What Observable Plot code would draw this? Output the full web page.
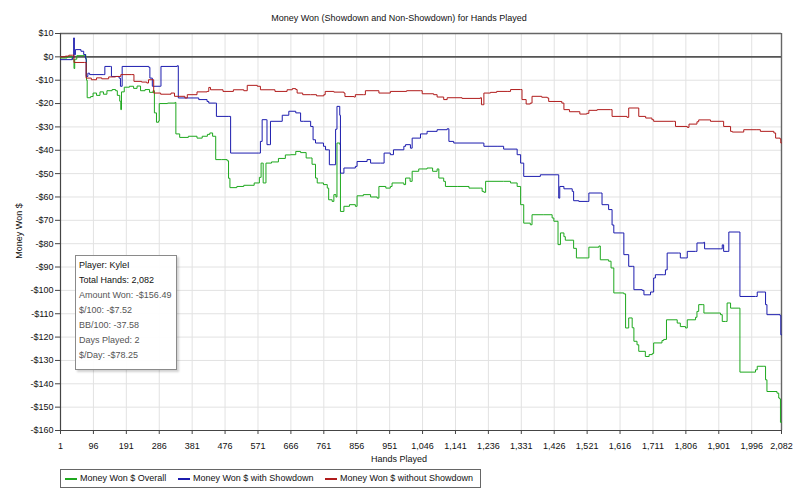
<!DOCTYPE html>
<html><head><meta charset="utf-8">
<script src="https://cdn.jsdelivr.net/npm/d3@7"></script>
<script src="https://cdn.jsdelivr.net/npm/@observablehq/plot@0.6"></script>
<style>
body{margin:0;background:#fff;font-family:"Liberation Sans",Arial,sans-serif;}
#wrap{position:relative;width:799px;height:501px;overflow:hidden;background:#fff;}
#chart{position:absolute;left:0;top:0;}
.abs{position:absolute;white-space:nowrap;font-size:9px;color:#111;}
#title{left:399px;top:18px;transform:translate(-50%,-50%);}
#xlabel{left:399px;top:459px;transform:translate(-50%,-50%);}
#ylabel{left:19px;top:231px;transform:translate(-50%,-50%) rotate(-90deg);}
#info{position:absolute;left:75px;top:255px;width:102px;height:115px;box-sizing:border-box;border:1px solid #8a8a8a;background:rgba(255,255,255,0.93);box-shadow:2px 2px 2px rgba(0,0,0,0.18);padding:2px 0 0 3px;font-size:9px;line-height:15px;color:#555;}
#info .dark{color:#111;}
#legend{position:absolute;left:60px;top:469px;width:421px;height:19px;box-sizing:border-box;border:1px solid #666;font-size:9px;color:#111;}
.li{position:absolute;top:0;line-height:17px;white-space:nowrap;}
.sw{position:absolute;top:8px;height:2px;}
</style></head><body>
<div id="wrap">
<div id="chart"></div>
<div class="abs" id="title">Money Won (Showdown and Non-Showdown) for Hands Played</div>
<div class="abs" id="xlabel">Hands Played</div>
<div class="abs" id="ylabel">Money Won $</div>
<div id="info"></div>
<div id="legend"></div>
</div>
<script>
const xTicks = [1,96,191,286,381,476,571,666,761,856,951,1046,1141,1236,1331,1426,1521,1616,1711,1806,1901,1996,2082];
const yTicks = [10,0,-10,-20,-30,-40,-50,-60,-70,-80,-90,-100,-110,-120,-130,-140,-150,-160];
const seriesNames = ["Money Won $ Overall","Money Won $ with Showdown","Money Won $ without Showdown"];
const seriesColors = ["#1ea81e","#1c1cae","#b01c1c"];
const infoLines = ["Player: KyleI","Total Hands: 2,082","Amount Won: -$156.49","$/100: -$7.52","BB/100: -37.58","Days Played: 2","$/Day: -$78.25"];

const overall = [[1,-0.5],[20,0],[35,-1],[39,-1],[40,-5],[42,-1],[48,0.5],[70,1],[74,-1],[76,-10],[78,-17.5],[88,-17],[95,-15.5],[105,-16.5],[115,-15],[125,-16],[135,-14.5],[150,-14],[160,-14.5],[165,-16.5],[172,-19],[175,-22.6],[177,-15],[185,-13],[200,-12.6],[212,-13.5],[222,-12.5],[232,-14.5],[245,-14],[258,-15.2],[268,-14.5],[272,-24],[278,-28],[284,-27.5],[286,-20],[310,-19.8],[332,-19.5],[334,-33],[345,-34.5],[370,-34],[395,-34.8],[410,-34],[425,-33.2],[432,-32.6],[440,-34],[447,-34],[449,-44],[465,-44],[482,-44.5],[486,-52],[490,-56],[510,-55.5],[530,-55],[560,-54],[575,-51.6],[580,-45.5],[584,-45.5],[586,-54],[592,-54],[594,-45.5],[610,-45],[630,-43.5],[650,-42],[665,-41.9],[680,-40.5],[694,-41],[710,-43.3],[723,-43.3],[727,-46],[737,-51.9],[742,-54],[751,-54],[760,-54.7],[771,-56.2],[775,-61.2],[785,-61.9],[790,-59],[796,-60],[799,-36.9],[807,-37.5],[809,-66.2],[819,-64],[835,-63.3],[852,-64],[857,-59.5],[875,-59],[896,-60],[915,-60.5],[920,-55.5],[940,-56.2],[953,-55.5],[958,-54],[992,-54.7],[997,-51.9],[1010,-53.3],[1016,-49],[1035,-48],[1059,-47.6],[1075,-49],[1088,-48],[1093,-51.9],[1107,-53.3],[1112,-55.5],[1146,-55.5],[1180,-56.2],[1213,-56.2],[1218,-57.6],[1223,-58],[1228,-53.3],[1280,-53.3],[1300,-54],[1319,-55.5],[1329,-63.3],[1338,-71.2],[1357,-71.9],[1362,-67.6],[1396,-67.6],[1420,-69],[1425,-70.4],[1434,-70.4],[1437,-80.4],[1444,-75.4],[1454,-77],[1458,-78.5],[1482,-82],[1490,-86.1],[1521,-86.1],[1526,-81.5],[1555,-81],[1559,-86.9],[1583,-87.5],[1590,-90.4],[1598,-101.1],[1627,-101.5],[1632,-116.1],[1641,-111.8],[1651,-116],[1656,-121.8],[1665,-123.3],[1670,-126.1],[1689,-128.3],[1700,-127.5],[1709,-127],[1713,-122.5],[1737,-121.5],[1742,-121],[1750,-112.6],[1781,-114],[1790,-115.5],[1805,-116.1],[1810,-112.6],[1834,-111.5],[1838,-109],[1843,-106.1],[1853,-106.1],[1858,-109.7],[1906,-110.4],[1911,-113.3],[1920,-113.3],[1925,-105.4],[1935,-107.6],[1959,-107.6],[1962,-135],[2007,-134],[2012,-132.5],[2031,-132.5],[2036,-138.3],[2040,-143.3],[2069,-144],[2074,-146.1],[2077,-146.5],[2079,-156.5],[2082,-156.5]];

const showdown = [[1,-1.2],[35,-0.5],[38,-0.5],[39,8.1],[41,0.9],[44,3.1],[60,2.4],[68,1],[73,-0.5],[75,-8.4],[80,-7],[85,-7.6],[126,-7.6],[129,-4.1],[145,-4.1],[148,-8.4],[170,-9.1],[174,-12.6],[179,-4.1],[256,-4.5],[259,-9.1],[266,-12.6],[290,-12.6],[291,-4.1],[338,-3.8],[341,-17.6],[400,-18.3],[424,-19.1],[429,-19.8],[448,-19.8],[451,-25.5],[487,-25.5],[492,-41.2],[573,-41.2],[578,-36.2],[583,-26.9],[595,-26.9],[597,-37.6],[605,-37.6],[607,-27.6],[641,-25],[660,-23.3],[680,-24],[694,-27.6],[703,-27.6],[723,-29.8],[730,-35.5],[737,-36.9],[760,-38.3],[766,-39.8],[775,-39.8],[777,-46.2],[790,-46.2],[795,-31],[799,-21.2],[807,-25],[809,-49.8],[819,-47.6],[852,-46.9],[857,-44.8],[886,-44],[896,-45.5],[925,-45.5],[935,-41.2],[953,-41.9],[962,-39.8],[992,-38.3],[997,-37.6],[1011,-39.1],[1016,-34.8],[1040,-33],[1059,-31.9],[1088,-31.2],[1117,-30.8],[1122,-36.2],[1136,-36.9],[1222,-36.9],[1223,-38.3],[1261,-38.3],[1280,-39.5],[1319,-41.9],[1329,-45.5],[1338,-51.2],[1386,-50.5],[1434,-50.5],[1439,-60.5],[1442,-55.5],[1454,-56.5],[1478,-57.6],[1482,-61.6],[1497,-61.9],[1521,-61.9],[1526,-58.3],[1559,-58.3],[1564,-63.3],[1583,-65.4],[1593,-72],[1598,-75.4],[1622,-75.4],[1627,-84.7],[1636,-84.7],[1641,-89.7],[1651,-89.7],[1656,-99.7],[1680,-100],[1685,-101.9],[1704,-100.7],[1713,-94.7],[1718,-93.3],[1742,-93.3],[1747,-91.2],[1752,-84],[1785,-84],[1790,-86.1],[1805,-86.1],[1810,-83.3],[1834,-83.3],[1838,-79.7],[1858,-79.4],[1860,-82.2],[1906,-82.2],[1911,-80.5],[1915,-83.3],[1925,-83.3],[1930,-75],[1959,-75],[1962,-102.6],[2007,-102.6],[2012,-100.7],[2031,-100.7],[2036,-106.1],[2040,-110.4],[2078,-110.8],[2080,-119],[2082,-119]];

const nonShowdown = [[1,0],[15,0.3],[25,0.7],[36,0.7],[40,-2.4],[70,-2.4],[75,-9.1],[90,-9.8],[105,-9],[120,-9.4],[140,-8.6],[160,-8.4],[175,-7.6],[205,-7.6],[213,-10.5],[235,-10.8],[250,-11.2],[255,-9.8],[266,-9.8],[270,-15.5],[290,-16],[320,-15.5],[330,-16.9],[360,-17.6],[367,-16.2],[395,-15],[424,-14.8],[429,-13.1],[434,-14.1],[470,-14.8],[500,-14.1],[530,-14.5],[540,-12.2],[569,-12.6],[578,-14.1],[620,-14.8],[655,-14.1],[670,-13.6],[680,-14],[684,-15.5],[700,-16.2],[723,-16.2],[740,-16.7],[761,-16.2],[765,-14.8],[790,-15.1],[819,-15.5],[822,-17],[848,-17.2],[852,-16.2],[876,-16.2],[881,-14.5],[920,-15.5],[953,-14.8],[1000,-14.5],[1040,-14.5],[1045,-15.8],[1078,-16.2],[1088,-17.2],[1107,-18.3],[1117,-17.5],[1160,-17.8],[1213,-17.5],[1216,-20.5],[1220,-20.5],[1223,-15.5],[1242,-15.2],[1260,-14.8],[1290,-14.8],[1300,-14],[1329,-14],[1333,-18.3],[1345,-20.2],[1357,-19.8],[1362,-16.9],[1390,-17.3],[1406,-17.6],[1410,-19.1],[1448,-19.8],[1454,-22.6],[1470,-23.5],[1500,-24.5],[1520,-24.2],[1526,-22.9],[1550,-22.6],[1588,-22.6],[1593,-25.5],[1636,-25.9],[1641,-21.9],[1665,-21.9],[1670,-25.5],[1690,-26.2],[1708,-26.9],[1713,-27.6],[1771,-27.6],[1776,-29.8],[1810,-30.2],[1815,-28.8],[1838,-27.8],[1843,-27],[1877,-27.6],[1910,-27.6],[1915,-29.8],[1935,-31.9],[1940,-32.2],[1968,-32.2],[1973,-31.2],[2011,-31.2],[2021,-31.9],[2060,-32.6],[2065,-34.8],[2078,-35.2],[2080,-36.9],[2082,-36.9]];

const seriesData = [overall, showdown, nonShowdown];
const rows = seriesData.flatMap((s, i) => s.map(([h, v]) => ({h, v, s: seriesNames[i]})));
const fmtY = d => (d < 0 ? "-$" : "$") + Math.abs(d);

const chart = Plot.plot({
  width: 799, height: 501,
  marginTop: 33, marginBottom: 71, marginLeft: 60, marginRight: 18,
  style: {fontFamily: "Liberation Sans, Arial, sans-serif", fontSize: "9px", background: "transparent", color: "#111"},
  x: {domain: [1, 2082]},
  y: {domain: [-160, 10]},
  color: {domain: seriesNames, range: seriesColors},
  marks: [
    Plot.gridX(xTicks, {stroke: "#e2e2e2", strokeOpacity: 1}),
    Plot.gridY(yTicks, {stroke: "#e2e2e2", strokeOpacity: 1}),
    Plot.ruleY([0], {stroke: "#555", strokeWidth: 1.6}),
    Plot.ruleY([10], {stroke: "#666", strokeWidth: 1.4}),
    Plot.ruleX([2082], {stroke: "#666", strokeWidth: 1.4}),
    Plot.ruleX([1], {stroke: "#444", strokeWidth: 1.2}),
    Plot.ruleY([-160], {stroke: "#444", strokeWidth: 1.2}),
    Plot.axisX(xTicks, {tickSize: 4, tickPadding: 8, tickFormat: d3.format(","), label: null, stroke: "#444"}),
    Plot.axisY(yTicks, {tickSize: 5, tickPadding: 2, tickFormat: fmtY, label: null, stroke: "#444"}),
    Plot.line(rows, {x: "h", y: "v", z: "s", stroke: "s", curve: "step-after", strokeWidth: 1})
  ]
});
document.getElementById("chart").appendChild(chart);

const info = document.getElementById("info");
infoLines.forEach((t, i) => {
  const d = document.createElement("div");
  d.textContent = t;
  if (i < 2) d.className = "dark";
  info.appendChild(d);
});

const legend = document.getElementById("legend");
const swX = [4, 117, 264];
seriesNames.forEach((n, i) => {
  const sw = document.createElement("div");
  sw.className = "sw";
  sw.style.left = swX[i] + "px";
  sw.style.width = "12px";
  sw.style.background = seriesColors[i];
  legend.appendChild(sw);
  const t = document.createElement("div");
  t.className = "li";
  t.style.left = (swX[i] + 15) + "px";
  t.textContent = n;
  legend.appendChild(t);
});
</script>
</body></html>
